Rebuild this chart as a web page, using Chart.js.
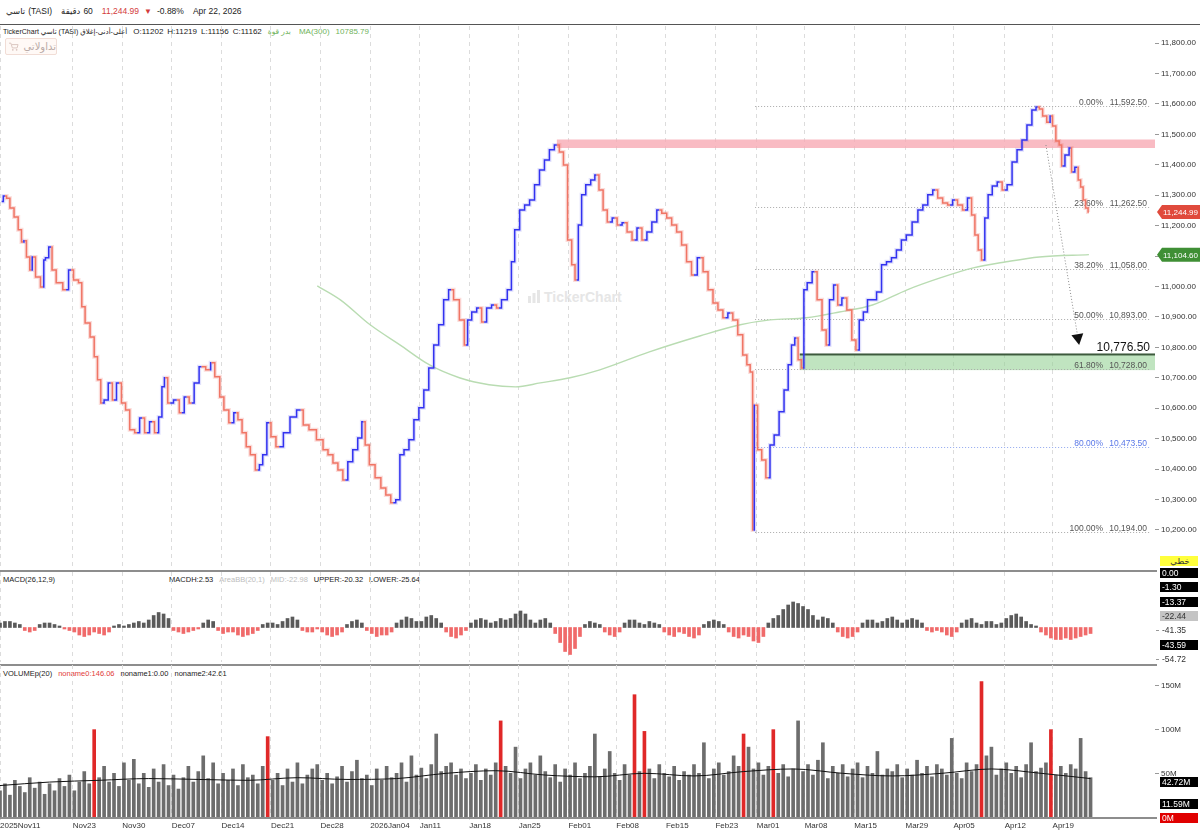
<!DOCTYPE html>
<html>
<head>
<meta charset="utf-8">
<script src="https://cdn.jsdelivr.net/npm/chart.js"></script>
<style>
  body { margin: 0; width: 1200px; height: 835px; position: relative; background: #fff; overflow: hidden;
         font-family: "Liberation Sans", "DejaVu Sans", sans-serif; color: #222; }
  canvas { position: absolute; left: 0; }
  #price { top: 26px; }
  #macd { top: 572px; }
  #vol { top: 665px; }
  .abs { position: absolute; white-space: nowrap; }
  #hdr { top: 6px; left: 6px; font-size: 8.5px; display: flex; gap: 3px; align-items: center; }
  #hdr .red { color: #d33c3c; }
  #hdrline { top: 24px; left: 0; width: 1200px; height: 1px; background: #555; }
  #info { top: 27px; left: 3px; font-size: 7.5px; display: flex; gap: 4px; align-items: baseline; }
  #info .g { color: #6fb35c; }
  #btn { top: 38px; left: 5px; width: 52px; height: 17px; border: 1px solid #f1ddd6; background: #fff9f6;
         border-radius: 2px; font-size: 10px; color: #b9aaa6; display: flex; align-items: center; gap: 5px; padding-left: 3px; box-sizing: border-box; }
  .sep { left: 0; width: 1157px; height: 2px; background: #8d8d8d; }
  .legend { font-size: 7.5px; display: flex; gap: 6px; }
  .legend .lt { color: #bdbdbd; }
  .legend .r { color: #e23b3b; }
  #wm { top: 289px; left: 527px; font-size: 14px; font-weight: bold; color: #e6e6e6; display: flex; gap: 3px; align-items: center; }
  .box { position: absolute; left: 1160px; width: 38px; height: 10px; font-size: 8.5px; line-height: 10px; padding-left: 2px; box-sizing: border-box; }
  .blk { background: #000; color: #fff; }
  .gry { background: #c4c4c4; color: #333; }
  .pl { color: #333; }
  .pl::before { content: ""; position: absolute; left: -4px; top: 5px; width: 3px; height: 1px; background: #999; }
</style>
</head>
<body>

<div id="hdr" class="abs">
  <span>تاسي</span><span>(TASI)</span>
  <span style="margin-left:6px">دقيقة</span><span>60</span>
  <span class="red" style="margin-left:6px">11,244.99</span><span class="red" style="font-size:8px;margin-left:2px">▼</span>
  <span style="margin-left:2px">-0.88%</span>
  <span style="margin-left:6px">Apr 22, 2026</span>
</div>
<div id="hdrline" class="abs"></div>
<div id="info" class="abs">
  <span style="font-size:7px">TickerChart تاسي (TASI) أعلى-أدنى-إغلاق</span>
  <span style="font-size:8px;margin-left:2px">O:11202</span><span style="font-size:8px">H:11219</span>
  <span style="font-size:8px">L:11156</span><span style="font-size:8px">C:11162</span>
  <span class="g" style="margin-left:2px">بدر قوة</span>
  <span class="g" style="font-size:8px;margin-left:4px">MA(300)</span><span class="g" style="font-size:8px;margin-left:2px">10785.79</span>
</div>
<div id="btn" class="abs">
  <svg width="10" height="9" viewBox="0 0 10 9"><path d="M0 1h2l1.5 5h5l1-3.5H3" fill="none" stroke="#d9c4be" stroke-width="1"/><circle cx="4" cy="8" r="0.9" fill="#d9c4be"/><circle cx="8" cy="8" r="0.9" fill="#d9c4be"/></svg>
  <span>تداولاتي</span>
</div>
<div id="wm" class="abs"><svg width="14" height="14" viewBox="0 0 14 14"><rect x="1" y="6" width="3" height="7" fill="#e6e6e6"/><rect x="5.5" y="3" width="3" height="10" fill="#e6e6e6"/><rect x="10" y="0" width="3" height="13" fill="#e6e6e6"/></svg>TickerChart</div>

<canvas id="price" width="1200" height="541"></canvas>
<div class="abs sep" style="top:570px"></div>
<div class="abs legend" style="top:575px;left:3px">
  <span>MACD(26,12,9)</span>
  <span style="margin-left:108px">MACDH:2.53</span><span class="lt">AreaBB(20,1)</span><span class="lt">MID:-22.98</span>
  <span>UPPER:-20.32</span><span>LOWER:-25.64</span>
</div>
<canvas id="macd" width="1200" height="90"></canvas>
<div class="abs sep" style="top:664px"></div>
<div class="abs legend" style="top:669px;left:3px">
  <span>VOLUMEp(20)</span><span class="r">noname0:146.06</span><span>noname1:0.00</span><span>noname2:42.61</span>
</div>
<canvas id="vol" width="1200" height="170"></canvas>
<div class="abs sep" style="top:817px"></div>

<div class="box" style="top:556px;background:#ffff3c;color:#333;text-align:center">خطي</div>
<div id="macdTags"></div>
<div id="volTags"></div>

<script>
// ---- price (60 min bars, bar index 0 = Nov 11 2025) ----
const priceIdx = [
  1,3,5,7,10,12,14,15,17,19,20,23,26,27,28,31,32,36,40,43,46,49,50,53,56,58,60,62,64,67,69,72,75,77,80,83,86,89,92,95,
  97,99,100,103,107,110,113,116,119,122,127,128,132,134,137,140,143,145,148,150,153,156,158,160,163,165,169,174,177,182,
  185,189,194,197,200,203,206,209,212,215,218,220,222,225,229,232,235,238,241,243,246,249,252,255,258,261,264,267,270,273,
  276,280,282,284,287,290,293,296,299,302,305,309,310,313,316,319,322,325,328,331,334,337,340,342,345,347,349,351,353,356,
  359,361,364,366,369,372,375,378,381,384,387,390,393,396,399,402,405,408,411,414,417,420,424,427,430,433,436,439,442,445,
  448,451,453,455,456,457,460,462,465,467,470,473,476,478,480,482,484,486,487,490,493,496,499,501,503,506,508,511,514,517,
  519,521,524,526,529,532,535,538,541,544,547,550,554,557,560,563,566,569,572,575,578,581,584,587,589,591,593,595,597,599,
  602,605,608,611,614,617,620,623,626,628,630,632,635,636,638,640,642,643,646,648,649,652,653,655,656,658,659
];
const priceClose = [
  11279,11297,11290,11258,11228,11186,11146,11150,11097,11054,11097,11031,10998,11087,11094,11130,11054,11012,10989,11054,
  11021,11012,10933,10880,10834,10769,10693,10617,10627,10683,10627,10683,10617,10594,10529,10519,10568,10519,10555,10519,
  10571,10670,10700,10617,10627,10585,10637,10617,10683,10736,10726,10749,10703,10637,10594,10552,10585,10562,10519,10473,
  10447,10397,10414,10447,10552,10506,10473,10519,10571,10594,
  10545,10529,10496,10463,10447,10420,10397,10364,10424,10463,10502,10555,10479,10414,10371,10338,10315,10289,10299,10447,
  10463,10496,10562,10601,10660,10732,10808,10874,10956,10989,
  10956,10890,10808,10890,10916,10929,10883,10929,10939,10929,10956,10989,11081,11186,11251,11268,11284,11334,11383,11416,
  11449,11465,11442,11399,11153,11071,11021,11202,11301,11334,
  11350,11366,11317,11251,11212,11225,11202,11209,11179,11153,11192,11153,11179,11212,11251,11241,11225,11202,11179,11136,
  11081,11038,11094,11048,10989,10946,10923,10897,10913,10890,
  10841,10775,10743,10719,10200,10610,10463,10430,10371,10479,10512,10588,10660,10743,10808,10831,10759,10732,10989,11012,
  11048,10956,10857,10808,10956,11005,10939,10962,10923,10824,
  10791,10890,10916,10956,10956,10982,11071,11081,11094,11120,11153,11169,11212,11251,11268,11301,11317,11291,11274,11268,
  11284,11268,11251,11291,11235,11169,11120,11087,11225,11301,
  11330,11343,11317,11334,11409,11449,11481,11531,11580,11590,11583,11560,11540,11560,11527,11478,11465,11396,11432,11455,
  11376,11392,11350,11327,11284,11258,11245
];
const maIdx = [192,206,224,242,260,278,296,312,327,345,363,393,424,448,466,488,508,528,549,569,589,609,629,659];
const maValue = [11002,10956,10874,10808,10742,10700,10677,10670,10683,10700,10726,10785,10838,10874,10890,10897,10916,10939,10989,11028,11061,11081,11097,11104.6];

const fibPct = ['0.00%', '23.60%', '38.20%', '50.00%', '61.80%', '80.00%', '100.00%'];
const fibPrice = [11592.5, 11262.5, 11058, 10893, 10728, 10473.5, 10194];
const fibStartIdx = 457;
const resistanceZone = [11455, 11483], resistanceStartIdx = 337;
const supportZone = [10725, 10776.5], supportStartIdx = 484;
const arrowFrom = [633, 11465], arrowTo = [652, 10843];
const lastPrice = 11244.99;

const priceTicks = [10200,10300,10400,10500,10600,10700,10800,10900,11000,11100,11200,11300,11400,11500,11600,11700,11800];
const dateTicks = [0,44,74,104,134,164,194,224,254,284,314,344,373,403,433,458,487,517,548,577,608,637];
const dateLabels = ['2025Nov11','Nov23','Nov30','Dec07','Dec14','Dec21','Dec28','2026Jan04','Jan11','Jan18','Jan25',
                    'Feb01','Feb08','Feb15','Feb23','Mar01','Mar08','Mar15','Mar29','Apr05','Apr12','Apr19'];

// ---- MACD histogram and volume, one sample every 3 bars ----
const sampleStep = 3;
const macdHist = [
  3,4,4,3,2, -2,-3,-2, 2,3,3,2,1, -1,-2, -3,-5,-6,-5,-3, -4,-5,-3, 1,2,1, 2,3,4,3, 5,8,10,9,6,
  -2,-3,-4,-3,-2,-1, 3,5,4, -2,-4,-3, -3,-5,-6,-5,-4,-2, 2,3,3,2, 4,6,7,5, -2,-3,-3,-1, -3,-5,-6,-5,-3,
  2,4,5,3, -2,-4,-6,-5,-5,-3, 3,5,7,6,4, 4,7,8,6,3, -3,-6,-7,-5,-2, 3,5,6,5,3, 4,6,5, 6,9,11,9,5, 3,5,6,3,
  -4,-10,-16,-18,-14,-6, 2,4,3,2, -3,-5,-6,-3, 3,5,5,3, 2,4,3,2, -3,-5,-6,-3, -4,-6,-7,-5, 2,4,5,4,2,
  -3,-6,-7,-5, -6,-9,-10,-6, 3,6,8, 12,15,17,16,14,12,8, 5,7,6,3, -3,-6,-7,-6,-3, 3,5,5,3, 4,6,7,5,
  3,5,6,5,3, -2,-3,-2, -3,-5,-6,-3, 3,5,6,3, 2,4,4,2, 3,6,8,9,7,4, 2,1, -3,-5,-7,-8,-8,-7,-8,-7,-6,-5,-4
];
const volume = [
  30,38,25,42,35,28,45,33,40,26, 38,30,44,35,48,30,40,52,38,100, 45,58,40,50,35,62,42,66,38,50,
  34,55,40,60,36,48,32,45,58,40, 52,70,44,62,38,50,42,55,36,60, 45,48,38,58,92,42,50,36,55,40,
  62,38,48,55,60,42,50,38,46,58, 40,52,65,44,48,36,55,42,58,45, 50,62,40,70,48,56,44,60,95,52,
  58,62,48,55,44,50,60,42,55,48, 62,110,58,50,80,44,55,62,48,70, 52,45,60,40,55,48,62,44,50,58,
  95,46,55,75,50,42,60,48,140,52, 98,55,44,60,50,46,58,42,52,48, 60,50,85,44,55,62,48,52,70,58,
  95,80,55,62,48,58,100,50,60,46, 55,110,52,60,48,65,85,44,58,50, 60,46,55,62,45,58,50,75,48,55,
  52,60,45,55,48,65,50,58,46,60, 55,48,90,50,44,62,52,60,155,70, 80,48,55,62,50,58,45,60,85,52,
  56,62,100,48,58,50,60,55,90,52,45
];
const volumeRedSamples = [19, 54, 101, 128, 130, 150, 156, 198, 212];
const volMaIdx = [0,30,60,90,120,150,180,210,240,270,300,330,360,390,420,450,480,510,540,570,600,630,660];
const volMaValue = [36,40,42,44,43,42,45,43,44,50,53,48,46,50,47,52,55,50,47,50,55,50,44];

const macdTags = [['0.00','blk'],['-1.30','blk'],['-13.37','blk'],['-22.44','gry'],['-41.35','pl'],['-43.59','blk'],['-54.72','pl']];
const volTags = [['42.72M','blk'], ['11.59M','blk'], ['0M','red']];

const X_MAX = 699;
const axisFont = { family: 'Liberation Sans', size: 8 };

function xScale(showLabels) {
  return {
    type: 'linear', min: 0, max: X_MAX, offset: false,
    afterBuildTicks: s => { s.ticks = dateTicks.map(v => ({ value: v })); },
    afterFit: s => { s.paddingLeft = 0; s.paddingRight = 0; s.height = showLabels ? 18 : 0; },
    ticks: { display: showLabels, autoSkip: false, maxRotation: 0, align: 'start', padding: 1,
             font: axisFont, color: '#333', callback: (v, i) => dateLabels[i] },
    grid: { color: '#dcdcdc', drawTicks: showLabels, tickLength: 3, offset: false },
    border: { display: false, dash: [4, 4] }
  };
}
function yFit(s) { s.width = 45; s.paddingTop = 0; s.paddingBottom = 0; }
const fmt = v => v.toLocaleString('en-US', { minimumFractionDigits: 2 });

// overlay drawn through the price scales
const priceOverlay = {
  id: 'priceOverlay',
  beforeDatasetsDraw(chart) {
    const { ctx, scales: { x, y }, chartArea: a } = chart;
    ctx.save();
    ctx.fillStyle = 'rgba(248,170,180,0.8)';
    const rx = x.getPixelForValue(resistanceStartIdx);
    const r0 = y.getPixelForValue(resistanceZone[1]), r1 = y.getPixelForValue(resistanceZone[0]);
    ctx.fillRect(rx, r0, a.right - rx, r1 - r0);
    ctx.fillStyle = 'rgba(150,210,150,0.6)';
    const s0 = y.getPixelForValue(supportZone[1]), s1 = y.getPixelForValue(supportZone[0]);
    const sx = x.getPixelForValue(supportStartIdx);
    ctx.fillRect(sx, s0, a.right - sx, s1 - s0);
    ctx.fillStyle = '#3d5a3d';
    ctx.fillRect(sx, s0 - 1, a.right - sx, 2);
    ctx.font = '12px "Liberation Sans"';
    ctx.fillStyle = '#111';
    ctx.textAlign = 'right';
    ctx.fillText(fmt(supportZone[1]), a.right - 5, s0 - 3);

    const fx = x.getPixelForValue(fibStartIdx);
    ctx.font = '8.5px "Liberation Sans"';
    fibPrice.forEach((p, i) => {
      const py = Math.round(y.getPixelForValue(p)) + 0.5;
      const blue = fibPct[i] === '80.00%';
      ctx.strokeStyle = blue ? '#8fa6ee' : '#a8a8a8';
      ctx.setLineDash([1, 2]);
      ctx.lineWidth = 1;
      ctx.beginPath(); ctx.moveTo(fx, py); ctx.lineTo(a.right - 5, py); ctx.stroke();
      ctx.fillStyle = blue ? '#5a78e8' : '#555';
      ctx.textAlign = 'right';
      ctx.fillText(fmt(p), a.right - 8, py - 2);
      ctx.fillText(fibPct[i], a.right - 52, py - 2);
    });

    // projected move
    const ax0 = x.getPixelForValue(arrowFrom[0]), ay0 = y.getPixelForValue(arrowFrom[1]);
    const ax1 = x.getPixelForValue(arrowTo[0]), ay1 = y.getPixelForValue(arrowTo[1]);
    ctx.strokeStyle = '#888';
    ctx.setLineDash([1, 2]);
    ctx.beginPath(); ctx.moveTo(ax0, ay0); ctx.lineTo(ax1, ay1); ctx.stroke();
    ctx.setLineDash([]);
    const ang = Math.atan2(ay1 - ay0, ax1 - ax0);
    ctx.fillStyle = '#111';
    ctx.beginPath();
    ctx.moveTo(ax1 + 11 * Math.cos(ang), ay1 + 11 * Math.sin(ang));
    ctx.lineTo(ax1 + 6 * Math.cos(ang + Math.PI / 2), ay1 + 6 * Math.sin(ang + Math.PI / 2));
    ctx.lineTo(ax1 + 6 * Math.cos(ang - Math.PI / 2), ay1 + 6 * Math.sin(ang - Math.PI / 2));
    ctx.closePath(); ctx.fill();
    ctx.restore();
  },
  afterDraw(chart) {
    const { ctx, scales: { y }, chartArea: a } = chart;
    const tag = (val, color) => {
      const py = y.getPixelForValue(val);
      ctx.fillStyle = color;
      ctx.beginPath();
      ctx.moveTo(a.right + 2, py); ctx.lineTo(a.right + 7, py - 7); ctx.lineTo(1200, py - 7);
      ctx.lineTo(1200, py + 7); ctx.lineTo(a.right + 7, py + 7); ctx.closePath(); ctx.fill();
      ctx.fillStyle = '#fff';
      ctx.font = '8px "Liberation Sans"';
      ctx.textAlign = 'left'; ctx.textBaseline = 'middle';
      ctx.fillText(fmt(val), a.right + 8, py + 1);
    };
    ctx.save();
    tag(lastPrice, '#e04a3c');
    tag(maValue[maValue.length - 1], '#3f8f35');
    ctx.restore();
  }
};

const priceData = priceIdx.map((v, i) => ({ x: v, y: priceClose[i] }));
const upDown = (up, down) => c => c.p1.parsed.y >= c.p0.parsed.y ? up : down;
new Chart(document.getElementById('price'), {
  type: 'line',
  data: {
    datasets: [
      { label: 'TASI', data: priceData, borderWidth: 1.5, pointRadius: 0, stepped: 'middle',
        segment: { borderColor: upDown('#3232f0', '#f07565') } },
      { label: 'halo', data: priceData, borderWidth: 4, pointRadius: 0, stepped: 'middle',
        segment: { borderColor: upDown('rgba(90,90,240,0.18)', 'rgba(240,120,110,0.25)') } },
      { label: 'MA(300)', data: maIdx.map((v, i) => ({ x: v, y: maValue[i] })), borderColor: '#b9dcb2', borderWidth: 1.4,
        pointRadius: 0, cubicInterpolationMode: 'monotone' }
    ]
  },
  options: {
    responsive: false, animation: false, layout: { padding: 0 },
    plugins: { legend: { display: false }, tooltip: { enabled: false } },
    scales: {
      x: xScale(false),
      y: { position: 'right', min: 10078, max: 11856, afterFit: yFit,
           afterBuildTicks: s => { s.ticks = priceTicks.map(v => ({ value: v })); },
           ticks: { font: axisFont, color: '#333', padding: 2, callback: v => fmt(v) },
           grid: { drawOnChartArea: false, tickLength: 4, color: '#999' }, border: { display: false } }
    }
  },
  plugins: [priceOverlay]
});

new Chart(document.getElementById('macd'), {
  type: 'bar',
  data: {
    datasets: [{ data: macdHist.map((v, i) => ({ x: i * sampleStep, y: v })), barThickness: 3,
                 backgroundColor: c => (c.raw && c.raw.y < 0) ? '#f06a6a' : '#5a5a5a' }]
  },
  options: {
    responsive: false, animation: false, layout: { padding: 0 },
    plugins: { legend: { display: false }, tooltip: { enabled: false } },
    scales: {
      x: xScale(false),
      y: { position: 'right', min: -23, max: 37, afterFit: yFit, ticks: { display: false },
           grid: { display: false }, border: { display: false } }
    }
  }
});

new Chart(document.getElementById('vol'), {
  type: 'bar',
  data: {
    datasets: [
      { type: 'line', data: volMaIdx.map((v, i) => ({ x: v, y: volMaValue[i] })), borderColor: '#111', borderWidth: 1,
        pointRadius: 0, cubicInterpolationMode: 'monotone' },
      { data: volume.map((v, i) => ({ x: i * sampleStep, y: v })), barThickness: 3,
        backgroundColor: c => volumeRedSamples.includes(c.dataIndex) ? '#e02828' : '#6d6d6d' }
    ]
  },
  options: {
    responsive: false, animation: false, layout: { padding: 0 },
    plugins: { legend: { display: false }, tooltip: { enabled: false } },
    scales: {
      x: xScale(true),
      y: { position: 'right', min: 0, max: 174, afterFit: yFit,
           afterBuildTicks: s => { s.ticks = [50, 100, 150].map(v => ({ value: v })); },
           ticks: { font: axisFont, color: '#333', padding: 2, callback: v => v + 'M' },
           grid: { drawOnChartArea: false, tickLength: 4, color: '#999' }, border: { display: false } }
    }
  }
});

// right-hand value tags
const mt = document.getElementById('macdTags');
macdTags.forEach((t, i) => {
  const d = document.createElement('div');
  d.className = 'box ' + t[1];
  d.style.top = (568 + i * 14.3) + 'px';
  d.textContent = t[0];
  mt.appendChild(d);
});
const vt = document.getElementById('volTags');
const volTagTop = [777, 799, 813];
volTags.forEach((t, i) => {
  const d = document.createElement('div');
  d.className = 'box ' + t[1];
  d.style.top = volTagTop[i] + 'px';
  if (t[1] === 'red') { d.style.background = '#e00000'; d.style.color = '#fff'; }
  d.textContent = t[0];
  vt.appendChild(d);
});
</script>
</body>
</html>
